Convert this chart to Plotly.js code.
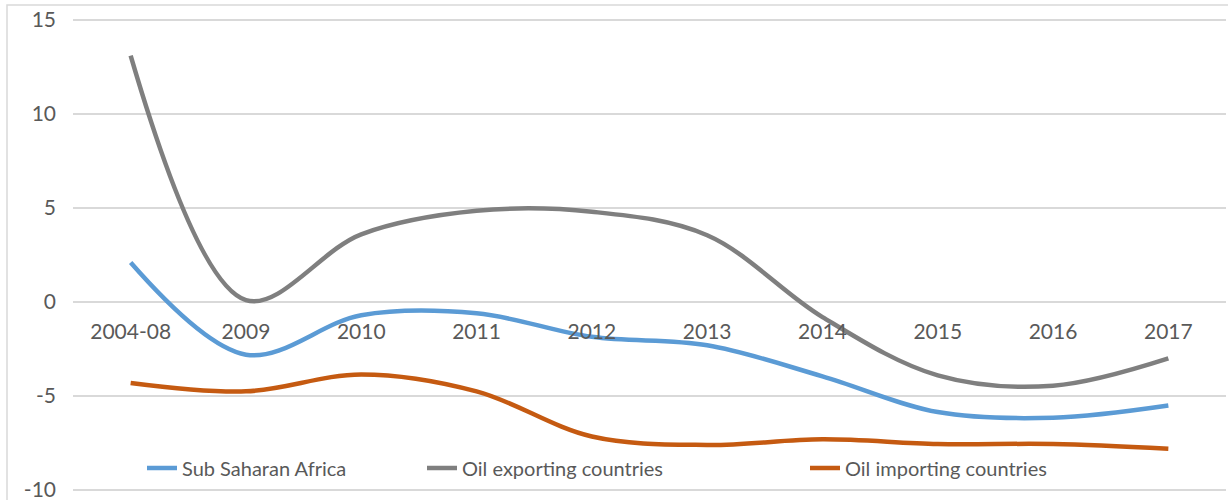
<!DOCTYPE html>
<html>
<head>
<meta charset="utf-8">
<script src="https://cdn.plot.ly/plotly-3.0.1.min.js"></script>
<style>html,body{margin:0;padding:0;background:#fff;}#chart{width:1228px;height:500px;}</style>
</head>
<body>
<div id="chart"></div>
<script>
var categories = ["2004-08","2009","2010","2011","2012","2013","2014","2015","2016","2017"];
var subSaharanAfrica = [2.1, -2.8, -0.7, -0.6, -1.85, -2.3, -3.95, -5.85, -6.15, -5.5];
var oilExporting = [13.1, 0.1, 3.6, 4.85, 4.8, 3.55, -0.8, -3.9, -4.45, -3.0];
var oilImporting = [-4.3, -4.75, -3.85, -4.75, -7.15, -7.6, -7.3, -7.55, -7.55, -7.8];
var seriesNames = ["Sub Saharan Africa", "Oil exporting countries", "Oil importing countries"];
var yTicks = [-10, -5, 0, 5, 10, 15];

var FONT = "Lato, 'Open Sans', sans-serif";
var TXT = "#595959";
var W = 1228, H = 500, L = 73, R = 2;
// y range padded slightly so the -10 and 15 gridlines are drawn
var yMin = -10.1, yMax = 15.1;
var pxPerUnit = 470 / 25;
var T = Math.round(20 - (yMax - 15) * pxPerUnit);
var B = Math.round(10 - (-10 - yMin) * pxPerUnit);
var pw = W - L - R, ph = H - T - B;
var zeroFrac = (0 - yMin) / (yMax - yMin);

function mk(y, name, color, leg) {
  return {x: categories, y: y, name: name, type: "scatter", mode: "lines",
    line: {color: color, width: 4.5, shape: "spline", smoothing: 1},
    legend: leg, hoverinfo: "x+y"};
}
var data = [
  mk(subSaharanAfrica, seriesNames[0], "#5B9BD5", "legend"),
  mk(oilExporting, seriesNames[1], "#7F7F7F", "legend2"),
  mk(oilImporting, seriesNames[2], "#C55A11", "legend3")
];

function legendAt(px) {
  return {x: (px - L) / pw, xanchor: "left", y: (H - B - 468) / ph, yanchor: "middle",
    bgcolor: "rgba(0,0,0,0)", borderwidth: 0,
    font: {family: FONT, size: 20, color: TXT}};
}

var layout = {
  width: W, height: H,
  margin: {l: L, r: R, t: T, b: B, pad: 0},
  paper_bgcolor: "#ffffff", plot_bgcolor: "#ffffff",
  font: {family: FONT, size: 21, color: TXT},
  showlegend: true,
  legend: legendAt(142),
  legend2: legendAt(422),
  legend3: legendAt(805),
  xaxis: {type: "category", range: [-0.5, 9.5], anchor: "free", position: zeroFrac,
    showgrid: false, showline: false, zeroline: false, ticks: "", ticklabelstandoff: 15,
    tickfont: {family: FONT, size: 21, color: TXT}, fixedrange: true},
  yaxis: {range: [yMin, yMax], tickvals: yTicks, ticktext: yTicks.map(String),
    showgrid: true, gridcolor: "#D9D9D9", gridwidth: 1.5, zeroline: false,
    showline: false, ticks: "", ticklabelstandoff: 16, ticklabeloverflow: "allow",
    tickfont: {family: FONT, size: 21, color: TXT}, fixedrange: true},
  shapes: [{type: "rect", xref: "paper", yref: "paper",
    x0: (7 - L) / pw, x1: (1240 - L) / pw, y0: -0.2, y1: (H - B - 5) / ph,
    line: {color: "#D9D9D9", width: 1.5}, fillcolor: "rgba(0,0,0,0)", layer: "below"}]
};

Plotly.newPlot("chart", data, layout, {displayModeBar: false, staticPlot: true});
</script>
</body>
</html>
